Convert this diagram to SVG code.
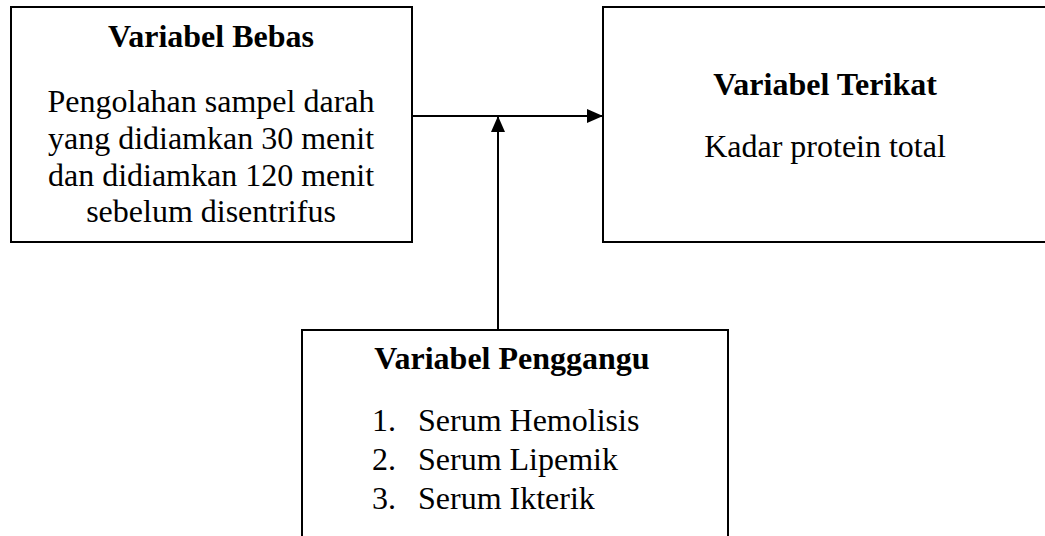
<svg xmlns="http://www.w3.org/2000/svg" width="1045" height="536" viewBox="0 0 1045 536">
<style>
.box{fill:#fff;stroke:#000;stroke-width:2}
.t{font-family:"Liberation Serif","Times New Roman",serif;font-size:32px;fill:#000}
.b{font-weight:bold}
.c{text-anchor:middle}
.ln{stroke:#000;stroke-width:2;fill:none}
</style>
<defs>
<marker id="ah" markerWidth="16" markerHeight="14" refX="16" refY="7" orient="auto" markerUnits="userSpaceOnUse">
<path d="M0,0 L16,7 L0,14 Z" fill="#000"/>
</marker>
</defs>
<g id="bebas">
<rect class="box" x="11" y="7" width="401" height="235"/>
<text class="t b c" x="211" y="47">Variabel Bebas</text>
<text class="t c" x="211" y="112">Pengolahan sampel darah</text>
<text class="t c" x="211" y="149">yang didiamkan 30 menit</text>
<text class="t c" x="211" y="186">dan didiamkan 120 menit</text>
<text class="t c" x="211" y="222">sebelum disentrifus</text>
</g>
<g id="terikat">
<rect class="box" x="603" y="7" width="460" height="235"/>
<text class="t b c" x="825" y="95">Variabel Terikat</text>
<text class="t c" x="825" y="157">Kadar protein total</text>
</g>
<g id="penggangu">
<rect class="box" x="302" y="330" width="426" height="220"/>
<text class="t b c" x="512" y="369">Variabel Penggangu</text>
<text class="t" x="372" y="431">1.</text>
<text class="t" x="418" y="431">Serum Hemolisis</text>
<text class="t" x="372" y="470">2.</text>
<text class="t" x="418" y="470">Serum Lipemik</text>
<text class="t" x="372" y="509">3.</text>
<text class="t" x="418" y="509">Serum Ikterik</text>
</g>
<g id="connectors">
<line class="ln" x1="412" y1="116" x2="603" y2="116" marker-end="url(#ah)"/>
<line class="ln" x1="498" y1="330" x2="498" y2="116" marker-end="url(#ah)"/>
</g>
</svg>
